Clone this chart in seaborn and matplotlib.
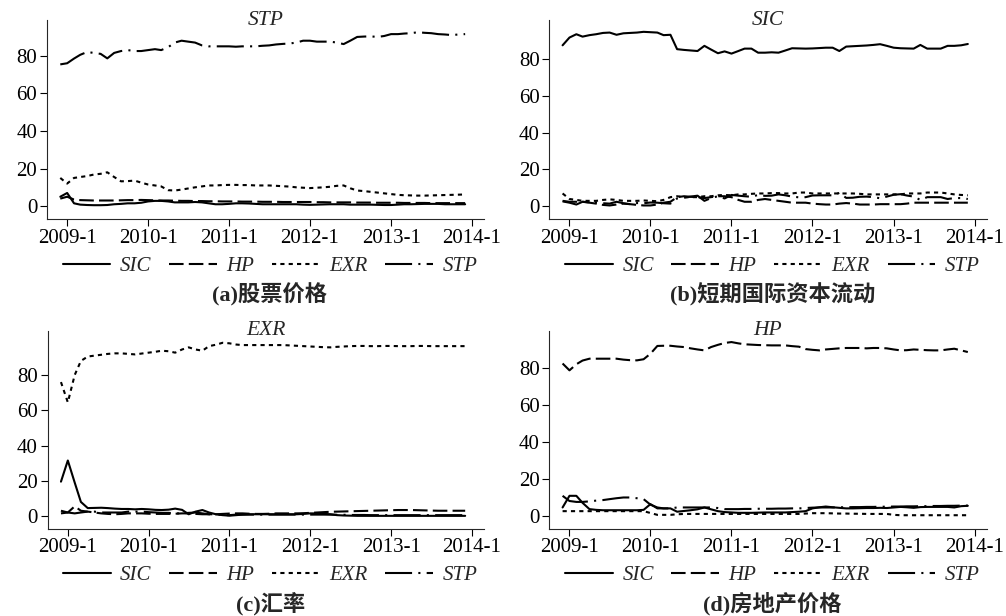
import pandas as pd
import numpy as np
import matplotlib.pyplot as plt
import seaborn as sns

# ================================
# Data: variance decomposition (%), monthly 2008-12 .. 2013-12
# ================================

months = pd.date_range("2008-12-01", "2013-12-01", freq="MS")
tick_dates = pd.to_datetime(["2009-01-01", "2010-01-01", "2011-01-01",
                             "2012-01-01", "2013-01-01", "2014-01-01"])
tick_labels = ["2009-1", "2010-1", "2011-1", "2012-1", "2013-1", "2014-1"]
series_names = ["SIC", "HP", "EXR", "STP"]

# (a) STP
a_sic = [5, 7, 1.5, 0.8, 0.6, 0.5, 0.5, 0.6, 1, 1.2,
         1.5, 1.5, 1.8, 2.5, 2.8, 2.8, 2.5, 2, 2, 2,
         2.2, 2, 1.5, 1, 1, 1.2, 1.5, 1.5, 1.4, 1.2,
         1, 1, 1, 1, 1, 1, 0.8, 0.7, 0.8, 0.9,
         1, 1, 1, 0.8, 0.8, 0.8, 0.8, 0.7, 0.6, 0.6,
         0.8, 1, 1, 1.1, 1.2, 1.2, 1.2, 1, 1, 1,
         1]
a_hp = [4, 5, 3.5, 3.2, 3.1, 3, 3, 3, 3, 3.1,
        3.2, 3.2, 3.3, 3.2, 3.1, 3, 3, 2.9, 2.8, 2.8,
        2.7, 2.7, 2.6, 2.6, 2.5, 2.5, 2.5, 2.4, 2.4, 2.4,
        2.3, 2.3, 2.3, 2.2, 2.2, 2.2, 2.2, 2.2, 2.1, 2.1,
        2.0, 2.0, 2.0, 2.0, 1.9, 1.9, 1.9, 1.8, 1.8, 1.8,
        1.8, 1.7, 1.7, 1.7, 1.7, 1.6, 1.6, 1.6, 1.6, 1.6,
        1.6]
a_exr = [15, 12, 15, 15.5, 16, 16.8, 17.2, 18, 15.5, 13.2,
         13.3, 13.6, 12.5, 11.5, 11, 10.5, 8.5, 8.3, 8.8, 9.4,
         10, 10.5, 11, 11, 11.2, 11.3, 11.3, 11.2, 11.2, 11,
         11, 11, 10.8, 10.6, 10.4, 10, 9.8, 9.6, 9.8, 10,
         10.3, 10.8, 11, 9.5, 8.3, 8, 7.6, 7.2, 6.8, 6.4,
         6, 5.8, 5.7, 5.6, 5.6, 5.7, 5.8, 5.9, 6, 6.1,
         6.2]
a_stp = [75.4, 76, 78.5, 80.5, 82, 81.5, 81, 78.6, 81.5, 82.5,
         83, 82.5, 82.5, 83, 83.5, 83, 84.5, 87, 88, 87.5,
         87, 85.5, 85, 85, 85, 85, 84.8, 85, 85, 85,
         85.3, 85.5, 86, 86.3, 86.5, 87, 88, 88, 87.5, 87.5,
         87.5, 87, 86.2, 88, 90, 90.2, 90.3, 90, 90.5, 91.5,
         91.5, 91.8, 92, 92.5, 92.2, 92, 91.5, 91.3, 91, 91.3,
         91.5]

# (b) SIC
b_sic = [87.3, 91.5, 93.3, 92, 92.8, 93.3, 94, 94.2, 93, 93.8,
         94, 94.2, 94.6, 94.4, 94.2, 92.8, 93, 85.2, 84.8, 84.5,
         84.2, 87, 85, 83, 84, 82.8, 84.2, 85.5, 85.5, 83.3,
         83.3, 83.5, 83.3, 84.5, 85.7, 85.6, 85.5, 85.6, 85.8, 86,
         86, 84.2, 86.6, 86.8, 87, 87.2, 87.5, 87.9, 87, 86,
         85.7, 85.6, 85.5, 87.5, 85.5, 85.5, 85.5, 87, 87, 87.3,
         88]
b_hp = [3, 2.5, 2.5, 2.5, 2, 1.5, 0.8, 0.5, 1, 1.5,
        1.2, 0.8, 0.5, 0.5, 1, 2, 2.5, 5, 5.5, 5.2,
        5, 4.5, 5, 5.5, 5.5, 5, 3.5, 2.5, 2.5, 3.5,
        4, 3.5, 3, 2.5, 2, 2, 2, 1.5, 1.2, 1,
        1, 1.5, 1.8, 1.5, 1, 1, 1, 1.2, 1.2, 1.2,
        1.2, 1.5, 2, 2, 2, 2, 2, 2, 2, 2,
        2]
b_exr = [7, 4, 3.5, 3, 3, 3, 3.5, 3.8, 3.5, 3,
         3, 3, 3.2, 3, 2.8, 3.5, 5, 5.5, 5, 5,
         5, 5.5, 5.5, 6, 6.2, 6, 6.5, 6.5, 6.8, 7,
         7, 7.2, 7.2, 7, 7, 7.5, 7.5, 7, 7, 7,
         7, 7, 7, 7, 6.8, 6.5, 6.5, 6.5, 6.5, 6.5,
         6.5, 7, 7, 7, 7.5, 7.5, 7.5, 7, 6.5, 6.2,
         6]
b_stp = [2.7, 2, 1, 2.5, 2.2, 2.2, 1.7, 1.5, 2.5, 1.7,
         1.2, 1.8, 1.7, 2.1, 2, 1.7, 1.5, 4.3, 4.7, 5.3,
         5.8, 3, 4.5, 5.5, 4.3, 6.2, 5.8, 5.5, 5.2, 6.2,
         5.7, 5.8, 6.5, 6, 5.3, 4.9, 5, 5.9, 6, 6,
         6, 7.3, 4.6, 4.7, 5.2, 5.3, 5, 4.4, 5.3, 6.3,
         6.6, 5.9, 5.3, 3.5, 5, 5, 5, 4, 4.5, 4.5,
         4]

# (c) EXR
c_sic = [19.5, 31.5, 19, 8, 4.5, 4.6, 4.7, 4.5, 4.2, 4,
         4, 3.8, 4, 3.8, 3.5, 3.4, 3.6, 4.2, 3.5, 1,
         2.5, 3.4, 2, 1, 0.5, 0.2, 0.5, 0.8, 1, 1,
         1, 1, 1, 1, 1, 1, 1.2, 1.5, 1.5, 1.2,
         1, 0.5, 0.3, 0.2, 0.1, 0.1, 0.1, 0.1, 0.1, 0.1,
         0.1, 0.1, 0.1, 0.1, 0.1, 0.1, 0.1, 0.1, 0.1, 0.1,
         0.1]
c_hp = [1.5, 2, 5.5, 3, 2.5, 2, 1.5, 1.2, 1, 1.2,
        1.5, 1.5, 1.5, 1.3, 1.2, 1.2, 1.2, 1.3, 1.5, 1.5,
        1.2, 1, 1, 1, 1.2, 1.4, 1.5, 1.5, 1.3, 1.2,
        1.2, 1.3, 1.5, 1.5, 1.5, 1.5, 1.6, 1.8, 2, 2.2,
        2.4, 2.5, 2.6, 2.7, 2.8, 2.9, 3, 3.1, 3.2, 3.3,
        3.4, 3.4, 3.4, 3.3, 3.2, 3.1, 3, 3, 3, 3,
        3]
c_exr = [76, 64.5, 80, 88, 90.5, 91, 91.5, 92, 92.3, 92.3,
         92, 91.7, 92.2, 92.7, 93.2, 93.8, 93.5, 92.7, 94.5, 95.7,
         94.5, 93.8, 96.4, 97.2, 98.3, 98, 97.3, 97, 97, 97,
         97, 97, 97, 97, 96.8, 96.6, 96.4, 96.2, 96, 95.8,
         95.7, 96, 96.2, 96.4, 96.5, 96.5, 96.4, 96.4, 96.5, 96.5,
         96.4, 96.4, 96.4, 96.5, 96.5, 96.4, 96.4, 96.4, 96.4, 96.4,
         96.4]
c_stp = [3, 2, 1.5, 2, 2.5, 2.5, 2, 2, 2, 2,
         2.5, 2.5, 2.5, 2.2, 2, 1.8, 1.8, 1.5, 1.5, 1.8,
         2, 1.5, 1, 1, 0.5, 0.5, 0.8, 0.8, 0.8, 0.8,
         0.8, 0.8, 0.8, 0.8, 0.8, 0.8, 0.8, 0.8, 0.8, 0.8,
         0.8, 0.7, 0.7, 0.6, 0.6, 0.6, 0.5, 0.5, 0.5, 0.5,
         0.5, 0.5, 0.5, 0.5, 0.5, 0.5, 0.5, 0.5, 0.5, 0.5,
         0.5]

# (d) HP
d_sic = [4.5, 10.8, 10.8, 7, 3.6, 3.2, 3, 3, 3, 3,
         3, 3, 3.2, 6.3, 4, 4, 4, 2.2, 2.6, 3,
         3.5, 4.5, 3.5, 2.5, 2, 1.8, 1.6, 1.6, 1.6, 1.7,
         1.8, 1.8, 1.8, 1.8, 2, 2.2, 2.5, 4, 4.6, 5,
         4.6, 4.3, 4, 4, 4.1, 4.2, 4.2, 4.3, 4.2, 4.5,
         4.8, 4.6, 4.3, 4.7, 4.8, 4.8, 4.8, 4.8, 4.5, 5.2,
         5.4]
d_hp = [82.4, 78.7, 82, 84, 85, 85, 85, 85, 85, 84.5,
        84.2, 84.1, 84.7, 87.7, 91.9, 92, 92, 91.6, 91.3, 90.6,
        90, 89.5, 91.3, 92.5, 93.5, 94, 93.3, 92.8, 92.6, 92.4,
        92.3, 92.2, 92.2, 92.2, 91.8, 91.5, 90.2, 89.8, 89.5, 90,
        90.3, 90.6, 90.8, 90.8, 90.8, 90.6, 90.8, 90.8, 90.6, 90,
        89.5, 89.6, 90, 89.8, 89.6, 89.5, 89.5, 90, 90.4, 89.5,
        88.6]
d_exr = [2.5, 2.5, 2.5, 2.5, 2.5, 2.5, 2.5, 2.5, 2.5, 2.5,
         2.5, 2.5, 2.5, 1.5, 0.5, 0.5, 0.5, 0.8, 1, 1,
         1, 1, 1, 1, 1, 1, 1, 1, 1, 1,
         1, 1, 1, 1, 1, 1, 1.2, 1.4, 1.4, 1.4,
         1.3, 1.2, 1.2, 1.1, 1.1, 1, 1, 1, 1, 0.5,
         0.3, 0.3, 0.3, 0.3, 0.3, 0.3, 0.3, 0.3, 0.3, 0.3,
         0.3]
d_stp = [10.8, 8, 7.5, 7.5, 7.8, 8.2, 8.5, 9, 9.5, 9.9,
         9.9, 9.5, 9, 6, 4.5, 4, 4, 4.5, 4.5, 4.5,
         4.5, 4.5, 4.5, 4.2, 3.6, 3.6, 3.6, 3.7, 3.7, 3.8,
         3.8, 3.8, 3.9, 3.9, 4, 4, 4.2, 4.4, 4.5, 4.5,
         4.5, 4.6, 4.6, 4.7, 4.7, 4.8, 4.8, 4.9, 4.9, 5,
         5, 5.1, 5.1, 5.2, 5.2, 5.3, 5.3, 5.4, 5.4, 5.5,
         5.5]

panel_titles = ["STP", "SIC", "EXR", "HP"]
panel_captions = ["(a)股票价格", "(b)短期国际资本流动", "(c)汇率", "(d)房地产价格"]
panel_data = [
    [a_sic, a_hp, a_exr, a_stp],
    [b_sic, b_hp, b_exr, b_stp],
    [c_sic, c_hp, c_exr, c_stp],
    [d_sic, d_hp, d_exr, d_stp],
]

# ================================
# Style
# ================================

sns.set_theme(style="ticks")
plt.rcParams["font.family"] = ["Liberation Serif", "Noto Sans CJK SC"]
plt.rcParams["axes.linewidth"] = 0.8

line_styles = {
    "SIC": "-",
    "HP": (0, (7, 2.5)),
    "EXR": (0, (2, 2)),
    "STP": (0, (13, 3, 1, 3)),
}

# axes rectangles [left, bottom, width, height] in figure fraction
positions = [
    [0.0467, 0.644, 0.4344, 0.3235],
    [0.5460, 0.644, 0.4348, 0.3235],
    [0.0474, 0.1417, 0.4337, 0.3210],
    [0.5460, 0.1417, 0.4348, 0.3210],
]
ylims = [(-7, 99), (-7, 101), (-7.2, 105), (-7, 100)]

fig = plt.figure(figsize=(10.06, 6.16), dpi=100)

for k in range(4):
    ax = fig.add_axes(positions[k])
    for name, values in zip(series_names, panel_data[k]):
        sns.lineplot(x=months, y=values, ax=ax, color="black", lw=1.5,
                     linestyle=line_styles[name], label=name, errorbar=None)

    ax.set_xlim(pd.Timestamp("2008-10-02"), pd.Timestamp("2014-02-24"))
    ax.set_ylim(*ylims[k])
    ax.set_xticks(tick_dates)
    ax.set_xticklabels(tick_labels)
    ax.set_yticks([0, 20, 40, 60, 80])
    ax.set_xlabel("")
    ax.set_ylabel("")
    ax.tick_params(direction="out", length=5, width=0.8, labelsize=15,
                   colors="black", pad=2)
    sns.despine(ax=ax)

    ax.text(0.5, 1.0, panel_titles[k], transform=ax.transAxes, ha="center",
            va="center", fontsize=15.5, style="italic")

    handles, labels = ax.get_legend_handles_labels()
    ax.legend(handles, labels, loc="center", bbox_to_anchor=(0.51, -0.235),
              ncol=4, frameon=False, handlelength=2.3, handletextpad=0.45,
              columnspacing=0.85, borderaxespad=0,
              prop={"style": "italic", "size": 15, "family": "Liberation Serif"})

    ax.text(0.51, -0.378, panel_captions[k], transform=ax.transAxes,
            ha="center", va="center", fontsize=16, fontweight="bold",
            family=["Liberation Serif", "Noto Sans CJK SC"])

fig.savefig("out.png", dpi=100)
